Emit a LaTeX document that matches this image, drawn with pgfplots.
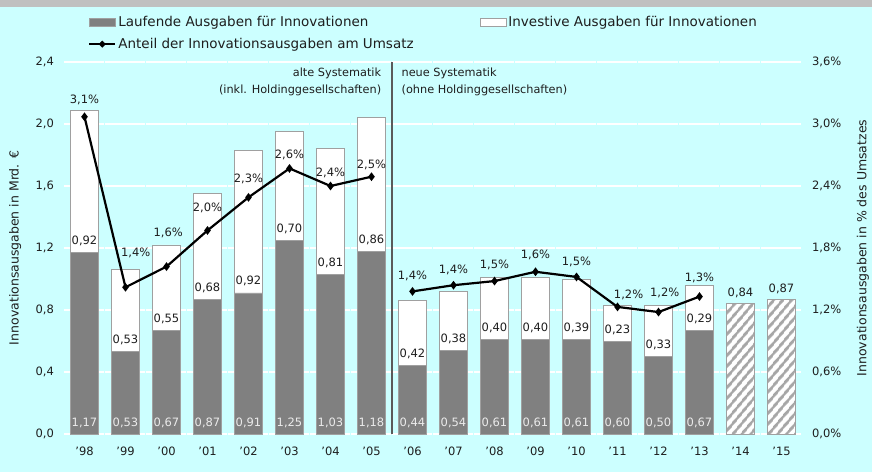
\documentclass[border=0pt]{standalone}
\usepackage{pgfplots}
\pgfplotsset{compat=1.18}
\usepackage{pgfplotstable}
\usepackage{fontspec}
\setmainfont{DejaVu Sans}
\usetikzlibrary{patterns.meta}
\definecolor{bgc}{RGB}{204,255,255}
\definecolor{topgray}{RGB}{192,192,192}
\definecolor{bargray}{RGB}{128,128,128}
\definecolor{barborder}{RGB}{160,160,160}
\definecolor{txt}{RGB}{30,30,30}
\definecolor{lbl}{RGB}{235,235,235}
\definecolor{sepline}{RGB}{90,90,90}
\pgfplotsset{/pgf/number format/use comma, /pgf/number format/assume math mode=true,
  rect legend/.style={legend image code/.code={\draw[##1] (0pt,-4pt) rectangle (26pt,4pt);}},
  myline legend/.style={legend image code/.code={\draw[black, line width=2.2pt] (0pt,0pt) -- (26pt,0pt);
      \fill[black] (13pt,3.2pt) -- (16.2pt,0pt) -- (13pt,-3.2pt) -- (9.8pt,0pt) -- cycle;}},
}

\pgfplotstableread{
x  z  lauf  inv
0  0  1.17  0.92
1  0  0.53  0.53
2  0  0.67  0.55
3  0  0.87  0.68
4  0  0.91  0.92
5  0  1.25  0.70
6  0  1.03  0.81
7  0  1.18  0.86
8  0  0.44  0.42
9  0  0.54  0.38
10 0  0.61  0.40
11 0  0.61  0.40
12 0  0.61  0.39
13 0  0.60  0.23
14 0  0.50  0.33
15 0  0.67  0.29
}\bars

\pgfplotstableread{
x    pct
0    3.07
1    1.42
2    1.62
3    1.97
4    2.29
5    2.57
6    2.40
7    2.49
7.5  nan
8    1.38
9    1.44
10   1.48
11   1.57
12   1.52
13   1.23
14   1.18
15   1.33
}\share

% label positions (x, y on the right scale) and the shown value
\pgfplotstableread{
lx     ly     pct
0      3.23   3.07
1.25   1.75   1.42
2.04   1.945  1.62
3      2.19   1.97
4      2.47   2.29
5      2.70   2.57
6      2.53   2.40
7      2.60   2.49
8      1.53   1.38
9      1.59   1.44
10     1.64   1.48
11     1.73   1.57
12     1.67   1.52
13.27  1.35   1.23
14.15  1.37   1.18
15     1.51   1.33
}\sharelabels

\newcommand{\fs}[1]{\fontsize{#1}{#1}\selectfont}

\begin{document}
\fs{11.5}%
\begin{tikzpicture}
\fill[bgc] (0,0) rectangle (872pt,472pt);
\fill[topgray] (0,465pt) rectangle (872pt,472pt);
\useasboundingbox (0,0) rectangle (872pt,472pt);

% --- Axis A: stacked bars, left scale, grid, legend
\begin{axis}[
  at={(64pt,38pt)}, anchor=south west,
  scale only axis, width=738pt, height=372pt,
  xmin=-0.5, xmax=17.5, ymin=0, ymax=2.4,
  ybar stacked, bar width=28pt,
  clip=false,
  axis line style={draw=none},
  tick style={draw=none}, major tick length=0pt,
  ytick={0,0.4,...,2.41},
  yticklabel={\pgfmathprintnumber[fixed,fixed zerofill,precision=1]{\tick}},
  yticklabel style={xshift=-6pt, text=txt, font=\fs{11.5}},
  xtick={0,...,17},
  xticklabels={'98,'99,'00,'01,'02,'03,'04,'05,'06,'07,'08,'09,'10,'11,'12,'13,'14,'15},
  xticklabel style={yshift=-9pt, text=txt, font=\fs{11.5}},
  ymajorgrids, grid style={white, line width=1.2pt, dash pattern=on 40pt off 1pt},
  ylabel={Innovationsausgaben in Mrd. €},
  ylabel style={at={(axis description cs:-0.066,0.5)}, anchor=center, text=txt, font=\fs{12.5}},
  legend columns=2,
  legend cell align=left,
  legend style={draw=none, fill=none, at={(axis description cs:0.0325,1.129)}, anchor=north west,
    inner sep=0pt, row sep=6pt, font=\fs{13.5}, text=txt,
    nodes={inner sep=2pt, anchor=west},
    /tikz/every even column/.append style={column sep=64pt}},
]
\addplot[fill=bargray, draw=barborder, line width=0.8pt, rect legend]
  table[x=x, y=lauf] {\bars};
\addlegendentry{Laufende Ausgaben für Innovationen}
\addplot[fill=white, draw=barborder, line width=0.8pt, rect legend]
  table[x=x, y=inv] {\bars};
\addlegendentry{Investive Ausgaben für Innovationen}
\addlegendimage{myline legend}
\addlegendentry{Anteil der Innovationsausgaben am Umsatz}
\draw[sepline, line width=1.2pt] (axis cs:7.5,0) -- (axis cs:7.5,2.4);
\node[anchor=north east, align=right, inner sep=0pt, font=\fontsize{11.3}{17}\selectfont, text=txt]
  at (axis cs:7.24,2.36) {alte Systematik\\(inkl. Holdinggesellschaften)};
\node[anchor=north west, align=left, inner sep=0pt, font=\fontsize{11.3}{17}\selectfont, text=txt]
  at (axis cs:7.73,2.36) {neue Systematik\\(ohne Holdinggesellschaften)};
\end{axis}

% --- Axis B: hatched forecast bars and bar value labels
\begin{axis}[
  at={(64pt,38pt)}, anchor=south west,
  scale only axis, width=738pt, height=372pt,
  xmin=-0.5, xmax=17.5, ymin=0, ymax=2.4,
  hide axis, clip=false,
]
\addplot[ybar, bar width=28pt, fill=white, draw=barborder, line width=0.8pt,
  postaction={pattern={Lines[angle=50, distance=6.5pt, line width=3pt]}, pattern color=gray!70},
  nodes near coords={\pgfmathprintnumber[fixed,fixed zerofill,precision=2]{\pgfplotspointmeta}},
  every node near coord/.append style={anchor=base, yshift=7pt, inner sep=0pt, text=txt, font=\fs{11.5}}]
  coordinates {(16,0.84) (17,0.87)};
% labels of the running expenses at the bottom of the bars
\addplot[draw=none, mark=none, point meta=explicit,
  nodes near coords={\pgfmathprintnumber[fixed,fixed zerofill,precision=2]{\pgfplotspointmeta}},
  every node near coord/.append style={anchor=base, yshift=8pt, inner sep=0pt, text=lbl, font=\fs{11.5}}]
  table[x=x, y=z, meta=lauf] {\bars};
% labels of the investment expenses just above the grey part
\addplot[draw=none, mark=none, point meta=explicit,
  nodes near coords={\pgfmathprintnumber[fixed,fixed zerofill,precision=2]{\pgfplotspointmeta}},
  every node near coord/.append style={anchor=base, yshift=8pt, inner sep=0pt, text=txt, font=\fs{11.5}}]
  table[x=x, y=lauf, meta=inv] {\bars};
\end{axis}

% --- Axis C: share of turnover, right scale
\begin{axis}[
  at={(64pt,38pt)}, anchor=south west,
  scale only axis, width=738pt, height=372pt,
  xmin=-0.5, xmax=17.5, ymin=0, ymax=3.6,
  axis x line=none, axis y line*=right,
  axis line style={draw=none},
  tick style={draw=none}, major tick length=0pt,
  ytick={0,0.6,...,3.61},
  yticklabel={\pgfmathprintnumber[fixed,fixed zerofill,precision=1]{\tick}\%},
  yticklabel style={xshift=6pt, text=txt, font=\fs{11.5}},
  ylabel={Innovationsausgaben in \% des Umsatzes},
  ylabel style={at={(axis description cs:1.0827,0.5)}, anchor=center, text=txt, font=\fs{12.5}},
  clip=false, unbounded coords=jump,
]
\addplot[black, line width=2.2pt, mark=diamond*, mark size=2.6pt]
  table[x=x, y=pct] {\share};
\addplot[draw=none, mark=none, point meta=explicit,
  nodes near coords={\pgfmathprintnumber[fixed,fixed zerofill,precision=1]{\pgfplotspointmeta}\%},
  every node near coord/.append style={anchor=center, inner sep=0pt, text=txt, font=\fs{11.5}}]
  table[x=lx, y=ly, meta=pct] {\sharelabels};
\end{axis}
\end{tikzpicture}
\end{document}
